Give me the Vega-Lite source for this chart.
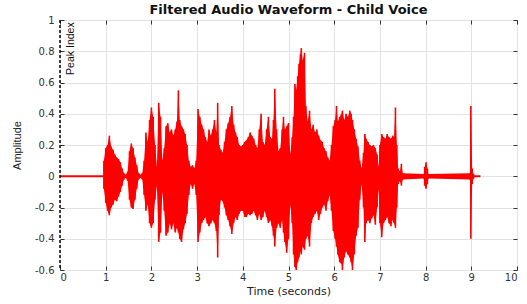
{
  "$schema": "https://vega.github.io/schema/vega-lite/v6.json",
  "width": 457,
  "height": 250,
  "autosize": "none",
  "padding": {"left": 60, "top": 20, "right": 10, "bottom": 34},
  "background": "white",
  "title": {"text": "Filtered Audio Waveform - Child Voice", "font": "DejaVu Sans", "fontSize": 13, "fontWeight": "bold", "color": "#111", "offset": -2, "anchor": "middle"},
  "config": {
    "view": {"stroke": "#222", "strokeWidth": 1},
    "axis": {"grid": true, "gridColor": "#e3e3e3", "gridWidth": 1, "domain": false, "tickColor": "#333", "labelFont": "DejaVu Sans", "labelFontSize": 10, "labelColor": "#333", "titleFont": "DejaVu Sans", "titleFontSize": 11, "titleFontWeight": "normal", "titleColor": "#222"}
  },
  "resolve": {"axis": {"x": "independent", "y": "independent"}},
  "datasets": {
    "wave": [
      {"t":0.96,"hi":0.10,"lo":-0.08},{"t":1.00,"hi":0.18,"lo":-0.17},{"t":1.04,"hi":0.20,"lo":-0.22},{"t":1.08,"hi":0.26,"lo":-0.25},{"t":1.12,"hi":0.19,"lo":-0.20},{"t":1.16,"hi":0.17,"lo":-0.18},{"t":1.20,"hi":0.14,"lo":-0.15},{"t":1.24,"hi":0.12,"lo":-0.16},{"t":1.28,"hi":0.11,"lo":-0.13},{"t":1.32,"hi":0.09,"lo":-0.10},{"t":1.36,"hi":0.05,"lo":-0.06},{"t":1.40,"hi":0.02,"lo":-0.02},{"t":1.44,"hi":0.01,"lo":-0.01},{"t":1.48,"hi":0.03,"lo":-0.03},
      {"t":1.52,"hi":0.16,"lo":-0.15},{"t":1.56,"hi":0.21,"lo":-0.20},{"t":1.60,"hi":0.18,"lo":-0.21},{"t":1.64,"hi":0.12,"lo":-0.15},{"t":1.68,"hi":0.07,"lo":-0.08},{"t":1.72,"hi":0.02,"lo":-0.02},{"t":1.76,"hi":0.01,"lo":-0.01},{"t":1.80,"hi":0.02,"lo":-0.02},
      {"t":1.84,"hi":0.10,"lo":-0.12},{"t":1.88,"hi":0.28,"lo":-0.22},{"t":1.92,"hi":0.22,"lo":-0.18},{"t":1.96,"hi":0.36,"lo":-0.30},{"t":2.00,"hi":0.44,"lo":-0.33},{"t":2.04,"hi":0.38,"lo":-0.30},{"t":2.08,"hi":0.20,"lo":-0.15},{"t":2.12,"hi":0.06,"lo":-0.06},{"t":2.16,"hi":0.47,"lo":-0.42},{"t":2.20,"hi":0.38,"lo":-0.36},{"t":2.24,"hi":0.10,"lo":-0.10},{"t":2.28,"hi":0.18,"lo":-0.22},{"t":2.32,"hi":0.32,"lo":-0.38},{"t":2.36,"hi":0.34,"lo":-0.36},{"t":2.40,"hi":0.28,"lo":-0.30},{"t":2.44,"hi":0.30,"lo":-0.34},{"t":2.48,"hi":0.26,"lo":-0.30},{"t":2.52,"hi":0.30,"lo":-0.36},{"t":2.56,"hi":0.35,"lo":-0.33},{"t":2.59,"hi":0.55,"lo":-0.36},{"t":2.62,"hi":0.36,"lo":-0.40},{"t":2.66,"hi":0.32,"lo":-0.42},{"t":2.70,"hi":0.30,"lo":-0.34},{"t":2.74,"hi":0.27,"lo":-0.30},{"t":2.78,"hi":0.20,"lo":-0.24},{"t":2.82,"hi":0.10,"lo":-0.12},{"t":2.86,"hi":0.06,"lo":-0.05},{"t":2.90,"hi":0.07,"lo":-0.08},{"t":2.94,"hi":0.05,"lo":-0.05},{"t":2.98,"hi":0.10,"lo":-0.12},
      {"t":3.02,"hi":0.43,"lo":-0.42},{"t":3.06,"hi":0.38,"lo":-0.36},{"t":3.10,"hi":0.33,"lo":-0.30},{"t":3.14,"hi":0.30,"lo":-0.28},{"t":3.18,"hi":0.25,"lo":-0.26},{"t":3.22,"hi":0.22,"lo":-0.30},{"t":3.26,"hi":0.30,"lo":-0.32},{"t":3.30,"hi":0.26,"lo":-0.30},{"t":3.34,"hi":0.30,"lo":-0.28},{"t":3.38,"hi":0.36,"lo":-0.30},{"t":3.42,"hi":0.28,"lo":-0.35},{"t":3.45,"hi":0.47,"lo":-0.52},{"t":3.48,"hi":0.20,"lo":-0.25},{"t":3.52,"hi":0.17,"lo":-0.15},{"t":3.56,"hi":0.15,"lo":-0.16},{"t":3.60,"hi":0.22,"lo":-0.20},{"t":3.64,"hi":0.30,"lo":-0.25},{"t":3.68,"hi":0.34,"lo":-0.28},{"t":3.72,"hi":0.38,"lo":-0.32},{"t":3.76,"hi":0.45,"lo":-0.37},{"t":3.80,"hi":0.33,"lo":-0.30},{"t":3.84,"hi":0.28,"lo":-0.26},{"t":3.88,"hi":0.25,"lo":-0.28},{"t":3.92,"hi":0.20,"lo":-0.24},{"t":3.96,"hi":0.19,"lo":-0.22},
      {"t":4.00,"hi":0.20,"lo":-0.22},{"t":4.04,"hi":0.22,"lo":-0.26},{"t":4.08,"hi":0.23,"lo":-0.26},{"t":4.12,"hi":0.25,"lo":-0.24},{"t":4.16,"hi":0.28,"lo":-0.25},{"t":4.20,"hi":0.26,"lo":-0.24},{"t":4.24,"hi":0.24,"lo":-0.22},{"t":4.28,"hi":0.20,"lo":-0.25},{"t":4.32,"hi":0.18,"lo":-0.28},{"t":4.36,"hi":0.30,"lo":-0.24},{"t":4.40,"hi":0.40,"lo":-0.28},{"t":4.44,"hi":0.22,"lo":-0.26},{"t":4.48,"hi":0.20,"lo":-0.22},{"t":4.52,"hi":0.30,"lo":-0.26},{"t":4.56,"hi":0.38,"lo":-0.30},{"t":4.60,"hi":0.25,"lo":-0.28},{"t":4.64,"hi":0.24,"lo":-0.32},{"t":4.67,"hi":0.36,"lo":-0.38},{"t":4.70,"hi":0.56,"lo":-0.45},{"t":4.74,"hi":0.30,"lo":-0.33},{"t":4.78,"hi":0.16,"lo":-0.30},{"t":4.82,"hi":0.18,"lo":-0.33},{"t":4.86,"hi":0.30,"lo":-0.28},{"t":4.89,"hi":0.38,"lo":-0.36},{"t":4.92,"hi":0.30,"lo":-0.42},{"t":4.96,"hi":0.32,"lo":-0.49},
      {"t":5.00,"hi":0.34,"lo":-0.40},{"t":5.04,"hi":0.14,"lo":-0.18},{"t":5.08,"hi":0.25,"lo":-0.30},{"t":5.11,"hi":0.38,"lo":-0.50},{"t":5.14,"hi":0.59,"lo":-0.58},{"t":5.17,"hi":0.55,"lo":-0.60},{"t":5.20,"hi":0.64,"lo":-0.55},{"t":5.23,"hi":0.72,"lo":-0.52},{"t":5.26,"hi":0.78,"lo":-0.48},{"t":5.28,"hi":0.82,"lo":-0.50},{"t":5.31,"hi":0.74,"lo":-0.45},{"t":5.35,"hi":0.79,"lo":-0.47},{"t":5.38,"hi":0.45,"lo":-0.40},{"t":5.42,"hi":0.35,"lo":-0.38},{"t":5.46,"hi":0.42,"lo":-0.45},{"t":5.50,"hi":0.30,"lo":-0.30},{"t":5.54,"hi":0.33,"lo":-0.26},{"t":5.58,"hi":0.28,"lo":-0.24},{"t":5.62,"hi":0.30,"lo":-0.22},{"t":5.66,"hi":0.26,"lo":-0.28},{"t":5.70,"hi":0.23,"lo":-0.24},{"t":5.74,"hi":0.22,"lo":-0.20},{"t":5.78,"hi":0.18,"lo":-0.18},{"t":5.82,"hi":0.16,"lo":-0.22},{"t":5.86,"hi":0.12,"lo":-0.16},{"t":5.90,"hi":0.10,"lo":-0.12},{"t":5.94,"hi":0.20,"lo":-0.22},{"t":5.98,"hi":0.32,"lo":-0.35},
      {"t":6.02,"hi":0.36,"lo":-0.40},{"t":6.05,"hi":0.45,"lo":-0.45},{"t":6.08,"hi":0.35,"lo":-0.50},{"t":6.12,"hi":0.38,"lo":-0.55},{"t":6.16,"hi":0.40,"lo":-0.56},{"t":6.18,"hi":0.42,"lo":-0.60},{"t":6.22,"hi":0.36,"lo":-0.52},{"t":6.26,"hi":0.40,"lo":-0.48},{"t":6.30,"hi":0.38,"lo":-0.50},{"t":6.34,"hi":0.42,"lo":-0.52},{"t":6.37,"hi":0.40,"lo":-0.55},{"t":6.40,"hi":0.36,"lo":-0.60},{"t":6.44,"hi":0.30,"lo":-0.50},{"t":6.48,"hi":0.24,"lo":-0.38},{"t":6.52,"hi":0.19,"lo":-0.33},{"t":6.56,"hi":0.10,"lo":-0.15},{"t":6.60,"hi":0.05,"lo":-0.05},{"t":6.64,"hi":0.15,"lo":-0.20},{"t":6.67,"hi":0.27,"lo":-0.42},{"t":6.70,"hi":0.24,"lo":-0.30},{"t":6.74,"hi":0.22,"lo":-0.28},{"t":6.78,"hi":0.20,"lo":-0.30},{"t":6.82,"hi":0.19,"lo":-0.27},{"t":6.86,"hi":0.20,"lo":-0.25},{"t":6.90,"hi":0.18,"lo":-0.31},{"t":6.94,"hi":0.14,"lo":-0.20},{"t":6.97,"hi":0.06,"lo":-0.08},
      {"t":7.00,"hi":0.20,"lo":-0.30},{"t":7.04,"hi":0.27,"lo":-0.39},{"t":7.08,"hi":0.25,"lo":-0.30},{"t":7.12,"hi":0.24,"lo":-0.28},{"t":7.16,"hi":0.27,"lo":-0.26},{"t":7.20,"hi":0.25,"lo":-0.30},{"t":7.24,"hi":0.24,"lo":-0.32},{"t":7.28,"hi":0.26,"lo":-0.28},{"t":7.31,"hi":0.25,"lo":-0.30},{"t":7.34,"hi":0.44,"lo":-0.33},{"t":7.37,"hi":0.20,"lo":-0.20},{"t":7.40,"hi":0.05,"lo":-0.05},{"t":7.44,"hi":0.03,"lo":-0.03},{"t":7.47,"hi":0.08,"lo":-0.06},{"t":7.50,"hi":0.02,"lo":-0.02},
      {"t":7.96,"hi":0.015,"lo":-0.015},{"t":7.98,"hi":0.06,"lo":-0.06},{"t":8.01,"hi":0.09,"lo":-0.08},{"t":8.04,"hi":0.05,"lo":-0.05},{"t":8.06,"hi":0.015,"lo":-0.015},
      {"t":8.97,"hi":0.02,"lo":-0.02},{"t":8.99,"hi":0.45,"lo":-0.40},{"t":9.02,"hi":0.05,"lo":-0.05},{"t":9.05,"hi":0.015,"lo":-0.015}
    ],
    "base": [
      {"x1": 0, "x2": 7.5, "y": 0},
      {"x1": 7.5, "x2": 9.2, "y": 0}
    ],
    "peak": [{"t": 0, "label": "Peak Index", "top": 1, "bottom": -0.6, "ty": 0.985, "tx": 0.25}]
  },
  "layer": [
    {
      "data": {"name": "base"},
      "mark": {"type": "rule", "color": "#f00", "strokeWidth": 2},
      "encoding": {
        "x": {"field": "x1", "type": "quantitative", "scale": {"domain": [0, 10], "nice": false}, "axis": {"orient": "bottom", "values": [0,1,2,3,4,5,6,7,8,9,10], "title": "Time (seconds)", "titlePadding": 3, "labelPadding": 6, "tickSize": -4}},
        "x2": {"field": "x2"},
        "y": {"field": "y", "type": "quantitative", "scale": {"domain": [-0.6, 1], "nice": false, "zero": false}, "axis": {"orient": "left", "values": [-0.6,-0.4,-0.2,0,0.2,0.4,0.6,0.8,1], "labelExpr": "replace(format(datum.value, '~g'), '\u2212', '-')", "title": "Amplitude", "titleFont": "Liberation Sans", "titleFontSize": 11, "titlePadding": 12, "labelPadding": 10, "tickSize": -4}}
      }
    },
    {
      "data": {"name": "wave"},
      "mark": {"type": "area", "color": "#f00", "opacity": 1},
      "encoding": {
        "x": {"field": "t", "type": "quantitative", "axis": null},
        "y": {"field": "hi", "type": "quantitative", "axis": null},
        "y2": {"field": "lo"}
      }
    },
    {
      "data": {"name": "wave"},
      "mark": {"type": "rule", "color": "#f00", "strokeWidth": 1.6},
      "encoding": {
        "x": {"field": "t", "type": "quantitative", "axis": {"orient": "top", "values": [0,1,2,3,4,5,6,7,8,9,10], "labels": false, "title": null, "grid": false, "tickSize": -4}},
        "y": {"field": "hi", "type": "quantitative", "axis": {"orient": "right", "values": [-0.6,-0.4,-0.2,0,0.2,0.4,0.6,0.8,1], "labels": false, "title": null, "grid": false, "tickSize": -4}},
        "y2": {"field": "lo"}
      }
    },
    {
      "data": {"name": "peak"},
      "mark": {"type": "rule", "color": "#000", "strokeWidth": 1.5, "strokeDash": [3, 2]},
      "encoding": {
        "x": {"field": "t", "type": "quantitative", "axis": null},
        "y": {"field": "top", "type": "quantitative", "axis": null},
        "y2": {"field": "bottom"}
      }
    },
    {
      "data": {"name": "peak"},
      "mark": {"type": "text", "angle": 270, "align": "right", "baseline": "middle", "font": "Liberation Sans", "fontSize": 10.5, "color": "#111"},
      "encoding": {
        "x": {"field": "tx", "type": "quantitative", "axis": null},
        "y": {"field": "ty", "type": "quantitative", "axis": null},
        "text": {"field": "label"}
      }
    }
  ]
}
